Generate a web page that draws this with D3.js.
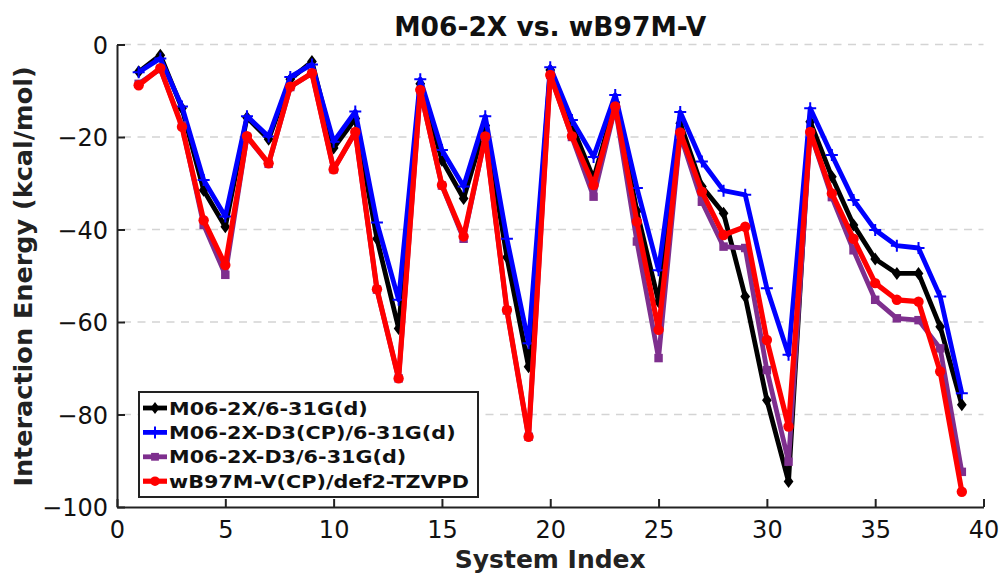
<!DOCTYPE html>
<html>
	<head>
		<meta charset="UTF-8">
		<script src="https://d3js.org/d3.v7.min.js"></script>
		<title>M06-2X vs. wB97M-V</title>
		<style>
			body { margin: 0; background: #fff; }
			text { font-family: "DejaVu Sans", sans-serif; }
		</style>
	</head>
	<body>
		<div id="chart"></div>
		<script>

			// Donnees
			var systemIndex = d3.range(1, 40);
			var m062x = [-5.9, -2.3, -13.8, -31.5, -39.4, -15.8, -20.5, -7.5, -3.7, -22.4,
				-16, -42, -61.4, -8.5, -25, -33.3, -17.5, -46, -69.7, -5.5,
				-17.5, -29, -12.5, -36, -55.6, -17, -30.7, -36.5, -54.5, -76.9,
				-94.5, -16.7, -28.6, -39, -46.4, -49.5, -49.5, -61, -77.9];
			var m062xD3cp = [-6, -3, -13.4, -29.3, -37.2, -15.5, -19.9, -7, -4.3, -21,
				-14.5, -38.5, -55.2, -7.5, -22.8, -30.7, -15.5, -42, -64.6, -4.9,
				-16.3, -24.3, -10.9, -31, -48.8, -14.6, -25.3, -31.6, -32.5, -52.7,
				-67.1, -13.8, -23.9, -33.6, -40.1, -43.5, -44, -54.5, -75.4];
			var m062xD3 = [-8.5, -5.3, -17.5, -39, -49.8, -20, -25.8, -9.2, -6.2, -27,
				-19, -53, -72.2, -10, -30.5, -42, -20, -57.5, -84.8, -6.6,
				-20, -32.9, -13.6, -42.6, -67.8, -19.5, -34, -43.7, -44, -70.4,
				-90.2, -19, -33, -44.5, -55.2, -59.2, -59.6, -65.7, -92.4];
			var wb97mv = [-8.8, -5.1, -17.8, -38, -47.7, -19.8, -25.7, -9.1, -6.2, -27,
				-18.9, -52.9, -72.2, -9.8, -30.4, -41.5, -19.9, -57.4, -84.8, -6.6,
				-19.8, -30.4, -13.4, -38.3, -61.7, -19, -31.8, -41.2, -39.4, -63.9,
				-82.6, -18.9, -32.2, -42, -51.6, -55.2, -55.6, -70.7, -96.7];

			var xTicks = [0, 5, 10, 15, 20, 25, 30, 35, 40];
			var yTicks = [0, -20, -40, -60, -80, -100];
			var seriesNames = ["M06-2X/6-31G(d)", "M06-2X-D3(CP)/6-31G(d)", "M06-2X-D3/6-31G(d)", "wB97M-V(CP)/def2-TZVPD"];

			var series = [
				{ name: seriesNames[0], values: m062x, color: "#000000", marker: "diamond", width: 4.8 },
				{ name: seriesNames[1], values: m062xD3cp, color: "#0000ff", marker: "plus", width: 4.8 },
				{ name: seriesNames[2], values: m062xD3, color: "#7e2f8e", marker: "square", width: 4.8 },
				{ name: seriesNames[3], values: wb97mv, color: "#ff0000", marker: "circle", width: 5.2 }
			];

			var width = 1005, height = 578;
			var plotLeft = 117, plotRight = 983.5, plotTop = 44.5, plotBottom = 507;

			var svg = d3.select("#chart").append("svg")
				.attr("width", width)
				.attr("height", height);

			var x = d3.scaleLinear().domain([0, 40]).range([plotLeft, plotRight]);
			var y = d3.scaleLinear().domain([-100, 0]).range([plotBottom, plotTop]);

			// grille pointillee
			svg.append("g")
				.selectAll("line")
				.data(yTicks.filter(function(d) { return d > -100; }))
				.enter().append("line")
				.attr("x1", plotLeft + 6).attr("x2", plotRight)
				.attr("y1", function(d) { return y(d); })
				.attr("y2", function(d) { return y(d); })
				.attr("stroke", "#d4d4d4")
				.attr("stroke-width", 1.5)
				.attr("stroke-dasharray", "8,6.5");

			var minus = function(d) { return String(d).replace("-", "\u2212"); };

			// axes
			var xAxis = svg.append("g")
				.attr("transform", "translate(0," + plotBottom + ")")
				.call(d3.axisBottom(x).tickValues(xTicks).tickSizeInner(-8).tickSizeOuter(0).tickPadding(14));
			var yAxis = svg.append("g")
				.attr("transform", "translate(" + plotLeft + ",0)")
				.call(d3.axisLeft(y).tickValues(yTicks).tickSizeInner(-8).tickSizeOuter(0).tickPadding(9).tickFormat(minus));

			[xAxis, yAxis].forEach(function(a) {
				a.select(".domain").attr("stroke", "#222").attr("stroke-width", 2);
				a.selectAll(".tick line").attr("stroke", "#222").attr("stroke-width", 2);
				a.selectAll(".tick text")
					.attr("font-family", "DejaVu Sans")
					.attr("font-size", "24px")
					.attr("fill", "#111");
			});
			yAxis.selectAll(".tick text").attr("dy", "0.36em");

			// courbes
			var line = d3.line()
				.x(function(d, i) { return x(systemIndex[i]); })
				.y(function(d) { return y(d); });

			function drawMarker(g, type, color, cx, cy, s) {
				if (type == "circle") {
					g.append("circle").attr("cx", cx).attr("cy", cy).attr("r", s * 0.8).attr("fill", color);
				} else if (type == "square") {
					g.append("rect").attr("x", cx - s * 0.65).attr("y", cy - s * 0.65)
						.attr("width", s * 1.3).attr("height", s * 1.3).attr("fill", color);
				} else if (type == "diamond") {
					g.append("path").attr("d", "M" + cx + "," + (cy - s) + "L" + (cx + s * 0.75) + "," + cy +
						"L" + cx + "," + (cy + s) + "L" + (cx - s * 0.75) + "," + cy + "Z").attr("fill", color);
				} else {
					g.append("path").attr("d", "M" + (cx - s) + "," + cy + "H" + (cx + s) + "M" + cx + "," + (cy - s) + "V" + (cy + s))
						.attr("stroke", color).attr("stroke-width", 2);
				}
			}

			series.forEach(function(s) {
				var g = svg.append("g");
				g.append("path")
					.datum(s.values)
					.attr("d", line)
					.attr("fill", "none")
					.attr("stroke", s.color)
					.attr("stroke-width", s.width)
					.attr("stroke-linejoin", "round");
				s.values.forEach(function(v, i) {
					drawMarker(g, s.marker, s.color, x(systemIndex[i]), y(v), s.marker == "plus" ? 6 : 6.5);
				});
			});

			// legende
			var legend = svg.append("g");
			legend.append("rect")
				.attr("x", 139).attr("y", 392)
				.attr("width", 339).attr("height", 105)
				.attr("fill", "#fff")
				.attr("stroke", "#222")
				.attr("stroke-width", 2);

			series.forEach(function(s, i) {
				var cy = 408 + i * 24.4;
				legend.append("line")
					.attr("x1", 143).attr("x2", 167)
					.attr("y1", cy).attr("y2", cy)
					.attr("stroke", s.color)
					.attr("stroke-width", s.width);
				drawMarker(legend, s.marker, s.color, 155, cy, 6);
				legend.append("text")
					.attr("transform", "translate(169," + (cy + 6.5) + ") scale(1.22,1)")
					.attr("font-size", "17px")
					.attr("font-weight", "bold")
					.attr("fill", "#111")
					.text(s.name);
			});

			// titres
			svg.append("text")
				.attr("x", (plotLeft + plotRight) / 2).attr("y", 36)
				.attr("text-anchor", "middle")
				.attr("font-size", "26.5px")
				.attr("font-weight", "bold")
				.attr("fill", "#111")
				.text("M06-2X vs. wB97M-V");

			svg.append("text")
				.attr("x", (plotLeft + plotRight) / 2).attr("y", 568)
				.attr("text-anchor", "middle")
				.attr("font-size", "25px")
				.attr("font-weight", "bold")
				.attr("fill", "#222")
				.text("System Index");

			svg.append("text")
				.attr("transform", "translate(32,276.5) rotate(-90)")
				.attr("text-anchor", "middle")
				.attr("font-size", "25.5px")
				.attr("font-weight", "bold")
				.attr("fill", "#222")
				.text("Interaction Energy (kcal/mol)");

		</script>
	</body>
</html>
